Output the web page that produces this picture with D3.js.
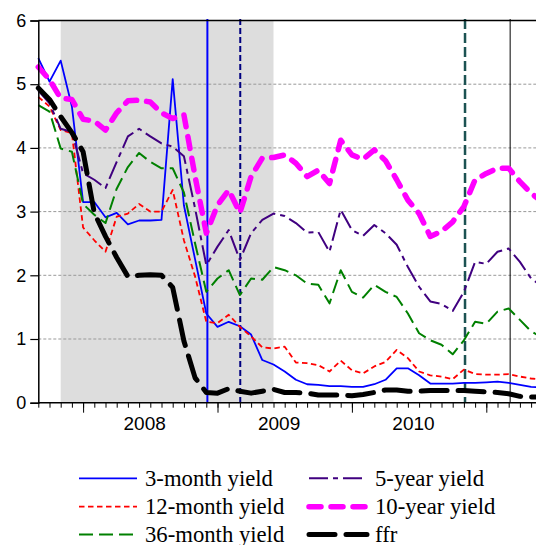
<!DOCTYPE html>
<html><head><meta charset="utf-8">
<script src="https://cdn.jsdelivr.net/npm/d3@7"></script>
<style>
body{margin:0;background:#fff;} svg{display:block;}
.lgtext{font-family:"Liberation Serif","Tinos","Times New Roman","DejaVu Serif",serif;font-size:22.7px;}
.axtext{font-family:"Liberation Sans",Arial,sans-serif;}
</style>
</head><body>
<svg id="chart" width="536" height="545"></svg>
<script>
// ---------- data ----------
const months = ["2007-09","2007-10","2007-11","2007-12",
  "2008-01","2008-02","2008-03","2008-04","2008-05","2008-06","2008-07","2008-08","2008-09","2008-10","2008-11","2008-12",
  "2009-01","2009-02","2009-03","2009-04","2009-05","2009-06","2009-07","2009-08","2009-09","2009-10","2009-11","2009-12",
  "2010-01","2010-02","2010-03","2010-04","2010-05","2010-06","2010-07","2010-08","2010-09","2010-10","2010-11","2010-12",
  "2011-01","2011-02","2011-03","2011-04","2011-05","2011-06"];

const y3m  = [5.41,5.04,5.37,4.65,3.15,3.15,2.91,2.98,2.80,2.86,2.86,2.87,5.08,3.10,2.25,1.40,
              1.19,1.27,1.20,1.07,0.67,0.60,0.49,0.36,0.29,0.28,0.26,0.26,
              0.25,0.25,0.29,0.36,0.54,0.54,0.43,0.30,0.30,0.30,0.31,0.31,
              0.32,0.33,0.31,0.28,0.25,0.24];
const y12m = [4.80,4.65,4.28,4.23,2.75,2.55,2.37,2.92,2.97,3.12,3.00,3.00,3.34,2.55,1.98,1.27,
              1.25,1.38,1.19,1.04,0.87,0.85,0.88,0.63,0.62,0.59,0.49,0.66,
              0.51,0.46,0.57,0.64,0.83,0.70,0.49,0.43,0.41,0.37,0.52,0.45,
              0.44,0.44,0.45,0.41,0.38,0.36];
const y36m = [4.67,4.57,3.99,3.94,3.12,2.95,2.82,3.36,3.70,3.92,3.78,3.68,3.68,3.30,2.50,1.74,
              1.95,2.08,1.69,1.95,1.93,2.13,2.08,2.00,1.87,1.85,1.56,2.08,
              1.74,1.65,1.85,1.74,1.66,1.40,1.09,0.98,0.91,0.76,0.98,1.27,
              1.24,1.43,1.48,1.30,1.12,1.02];
const y5y  = [4.90,4.70,4.30,4.25,3.60,3.50,3.37,3.78,4.18,4.30,4.18,4.07,4.02,3.87,3.05,2.16,
              2.45,2.71,2.24,2.66,2.87,2.97,2.93,2.82,2.67,2.68,2.37,3.03,
              2.71,2.62,2.79,2.66,2.48,2.13,1.82,1.59,1.55,1.44,1.74,2.21,
              2.18,2.37,2.42,2.21,1.95,1.82];
const y10y = [5.27,5.07,4.78,4.76,4.45,4.42,4.28,4.55,4.74,4.75,4.72,4.55,4.46,4.52,3.55,2.66,
              3.10,3.34,2.98,3.55,3.84,3.85,3.89,3.76,3.55,3.65,3.44,4.12,
              3.89,3.82,3.97,3.80,3.50,3.18,2.97,2.61,2.69,2.84,3.08,3.50,
              3.60,3.68,3.68,3.47,3.29,3.15];
const ffr  = [4.94,4.76,4.49,4.24,3.94,2.98,2.61,2.28,1.98,2.00,2.01,2.00,1.81,0.97,0.39,0.16,
              0.15,0.22,0.18,0.15,0.18,0.21,0.16,0.16,0.15,0.12,0.12,0.12,
              0.11,0.13,0.16,0.20,0.20,0.18,0.18,0.19,0.19,0.19,0.19,0.18,
              0.17,0.16,0.14,0.10,0.09,0.09];

const seriesNames = ["3-month yield","12-month yield","36-month yield","5-year yield","10-year yield","ffr"];
const yearLabels = ["2008","2009","2010"];
const yTicks = [0,1,2,3,4,5,6];
const recession = ["2007-11","2009-06"];
const eventDates = ["2008-12-04","2009-03-02","2010-11-04","2011-03-05"];

// ---------- layout / style ----------
const svg = d3.select("#chart");
const L = 38.3, T = 20.5, B = 402.7;
const x = d3.scaleLinear().domain([0, months.length - 1]).range([L, L + 11.2 * (months.length - 1)]);
const y = d3.scaleLinear().domain([0, 6]).range([B, T]);
const idx = m => months.indexOf(m);
const dateIdx = s => {
  const [yy, mm, dd] = s.split("-").map(Number);
  const dim = new Date(yy, mm, 0).getDate();
  return idx(s.slice(0, 7)) + (dd - 1) / dim;
};

// recession shading
svg.append("rect")
  .attr("x", x(idx(recession[0]))).attr("y", T)
  .attr("width", x(idx(recession[1])) - x(idx(recession[0])))
  .attr("height", B - T).attr("fill", "#dddddd");

// grid
svg.append("g").selectAll("line").data(yTicks.filter(v => v > 0 && v < 6)).join("line")
  .attr("x1", L).attr("x2", 536).attr("y1", d => y(d)).attr("y2", d => y(d))
  .attr("stroke", "#999").attr("stroke-width", 1).attr("stroke-dasharray", "3,2");

// event verticals
const evStyles = [
  {c: "#0000ff", w: 2, d: null},
  {c: "#000080", w: 2, d: "6,3"},
  {c: "#1c5252", w: 2.5, d: "10,4"},
  {c: "#000000", w: 1, d: null}
];
svg.append("g").selectAll("line").data(eventDates).join("line")
  .attr("x1", d => x(dateIdx(d))).attr("x2", d => x(dateIdx(d)))
  .attr("y1", T - 1.5).attr("y2", B)
  .attr("stroke", (d, i) => evStyles[i].c)
  .attr("stroke-width", (d, i) => evStyles[i].w)
  .attr("stroke-dasharray", (d, i) => evStyles[i].d);

// series
const series = [y3m, y12m, y36m, y5y, y10y, ffr];
const styles = [
  {c: "#0000ff", w: 1.8, d: null, cap: "butt"},
  {c: "#ff0000", w: 1.8, d: "5.5,3.5", cap: "butt"},
  {c: "#008000", w: 2, d: "14,6", cap: "butt"},
  {c: "#400080", w: 2, d: "19,5,5,5", cap: "butt"},
  {c: "#ff00ff", w: 5.5, d: "12,10", cap: "round"},
  {c: "#000000", w: 5, d: "26,11", cap: "round"}
];
const line = d3.line().x((d, i) => x(i)).y(d => y(d));
svg.append("g").selectAll("path").data(series).join("path")
  .attr("d", d => line(d))
  .attr("fill", "none")
  .attr("stroke", (d, i) => styles[i].c)
  .attr("stroke-width", (d, i) => styles[i].w)
  .attr("stroke-dasharray", (d, i) => styles[i].d)
  .attr("stroke-linecap", (d, i) => styles[i].cap)
  .attr("stroke-linejoin", "round");

// frame
svg.append("line").attr("x1", L).attr("x2", 536).attr("y1", T).attr("y2", T)
  .attr("stroke", "#000").attr("stroke-width", 1.5);

// y axis
const yAxis = d3.axisLeft(y).tickValues(yTicks).tickSize(8).tickPadding(4).tickFormat(d3.format("d"));
const gy = svg.append("g").attr("transform", `translate(${L},0)`).call(yAxis);
gy.attr("font-family", null).attr("font-size", null);
gy.select(".domain").attr("stroke", "#000").attr("stroke-width", 1.5);
gy.selectAll(".tick line").attr("stroke-width", 1.2);
gy.selectAll("text").attr("class", "axtext").style("font-size", "18px").attr("fill", "#000");

// x axis: monthly minor ticks, January major ticks
const gx = svg.append("g").attr("transform", `translate(0,${B})`);
gx.append("line").attr("x1", L).attr("x2", 536).attr("stroke", "#000").attr("stroke-width", 1.5);
const xAxisMinor = d3.axisBottom(x).tickValues(d3.range(months.length)).tickSize(5).tickFormat("");
const gMinor = svg.append("g").attr("transform", `translate(0,${B})`).call(xAxisMinor);
gMinor.select(".domain").remove();
const majorIdx = months.map((m, i) => m.endsWith("-01") ? i : -1).filter(i => i >= 0);
const xAxisMajor = d3.axisBottom(x).tickValues(majorIdx).tickSize(10).tickFormat("");
const gMajor = svg.append("g").attr("transform", `translate(0,${B})`).call(xAxisMajor);
gMajor.select(".domain").remove();
svg.append("g").selectAll("text").data(yearLabels).join("text")
  .attr("class", "axtext")
  .attr("x", d => x(idx(d + "-01") + 5.5)).attr("y", 430)
  .attr("text-anchor", "middle")
  .style("font-size", "19px")
  .text(d => d);

// legend
const legendPos = [[79, 478.3], [79, 506.7], [79, 534.5], [309, 478.3], [309, 506.7], [309, 534.5]];
const lg = svg.append("g").selectAll("g").data(seriesNames).join("g")
  .attr("transform", (d, i) => `translate(${legendPos[i][0]},${legendPos[i][1]})`);
lg.append("line").attr("x1", 0).attr("x2", 58)
  .attr("stroke", (d, i) => styles[i].c)
  .attr("stroke-width", (d, i) => styles[i].w)
  .attr("stroke-dasharray", (d, i) => styles[i].d)
  .attr("stroke-linecap", (d, i) => styles[i].cap);
lg.append("text").attr("class", "lgtext").attr("x", 66).attr("y", 7.5)
  .text(d => d);
</script>
</body></html>
